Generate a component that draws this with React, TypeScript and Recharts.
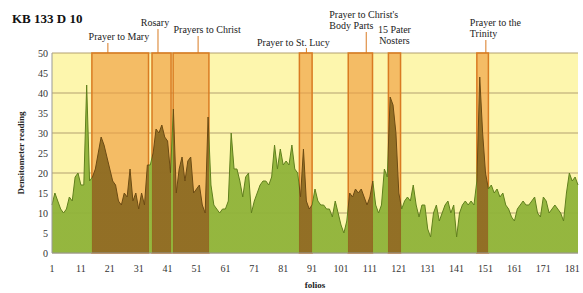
import React from "react";
import {
  AreaChart,
  Area,
  XAxis,
  YAxis,
  CartesianGrid,
  ReferenceArea,
} from "recharts";

// densitometer readings, folio 1..183
const readings = [
  12, 15, 13, 11, 10, 11, 14, 13, 19, 20, 17, 17, 42, 18, 19, 21, 25, 29, 27, 24,
  21, 18, 17, 13, 12, 15, 14, 21, 13, 15, 11, 15, 12, 22, 22, 25, 31, 30, 32, 29,
  28, 20, 36, 15, 21, 24, 18, 23, 24, 15, 16, 17, 12, 10, 34, 17, 12, 11, 10, 11,
  11, 13, 30, 21, 21, 18, 14, 19, 20, 10, 13, 15, 17, 18, 18, 17, 19, 27, 21, 26,
  22, 23, 22, 27, 21, 20, 14, 26, 13, 11, 12, 16, 13, 12, 12, 11, 11, 9, 13, 10,
  7, 5, 8, 15, 14, 16, 15, 16, 14, 12, 14, 18, 12, 10, 12, 21, 19, 39, 37, 30,
  15, 11, 13, 14, 13, 17, 12, 9, 12, 12, 6, 4, 10, 12, 8, 10, 12, 13, 10, 12,
  4, 10, 12, 13, 12, 13, 12, 18, 44, 30, 20, 16, 17, 15, 16, 14, 15, 12, 11, 9,
  8, 11, 12, 13, 12, 12, 13, 14, 10, 9, 14, 13, 10, 11, 12, 11, 10, 8, 15, 20,
  18, 19, 17,
];

const xTicks = [1, 11, 21, 31, 41, 51, 61, 71, 81, 91, 101, 111, 121, 131, 141, 151, 161, 171, 181];
const yTicks = [0, 5, 10, 15, 20, 25, 30, 35, 40, 45, 50];

// marked sections (folio from / to)
const bandNames = [
  "Prayer to Mary",
  "Rosary",
  "Prayers to Christ",
  "Prayer to St. Lucy",
  "Prayer to Christ's\nBody Parts",
  "15 Pater\nNosters",
  "Prayer to the\nTrinity",
];
const bandFrom = [14.8, 35.6, 42.9, 86.6, 103.5, 117.4, 148];
const bandTo = [34.4, 42.2, 55.3, 91.0, 111.9, 121.6, 152];

// label placement, relative to the band's left edge and the plot top
const labelLayout = [
  { tx: 27, ty: [-13], anchor: "middle", lx: 16, ly: -10 },
  { tx: 3, ty: [-27], anchor: "middle", lx: 6, ly: -24 },
  { tx: 34, ty: [-20], anchor: "middle", lx: 25, ly: -17 },
  { tx: -6, ty: [-7], anchor: "middle", lx: 7, ly: -5 },
  { tx: -19, ty: [-35, -24], anchor: "start", lx: 18, ly: -21 },
  { tx: 6, ty: [-20, -9], anchor: "middle", lx: null, ly: 0 },
  { tx: -7, ty: [-27, -16], anchor: "start", lx: 9, ly: -13 },
];

const data = readings.map((v, i) => ({ folio: i + 1, reading: v }));

const X_MIN = 1;
const X_MAX = readings.length;

const GREEN = "#8fb339";
const GREEN_LINE = "#5f7f1c";
const BROWN = "#8d6b22";
const BROWN_LINE = "#6b4a12";

function gradientStops(outside: string, inside: string) {
  const stops: React.ReactNode[] = [];
  const span = X_MAX - X_MIN;
  stops.push(<stop key="s" offset={0} stopColor={outside} />);
  bandFrom.forEach((a, i) => {
    const o1 = (a - X_MIN) / span;
    const o2 = (bandTo[i] - X_MIN) / span;
    stops.push(<stop key={`a${i}`} offset={o1} stopColor={outside} />);
    stops.push(<stop key={`b${i}`} offset={o1} stopColor={inside} />);
    stops.push(<stop key={`c${i}`} offset={o2} stopColor={inside} />);
    stops.push(<stop key={`d${i}`} offset={o2} stopColor={outside} />);
  });
  stops.push(<stop key="e" offset={1} stopColor={outside} />);
  return stops;
}

function BandLabel(props: any) {
  const { viewBox, idx } = props;
  if (!viewBox) return null;
  const lay = labelLayout[idx];
  const lines = bandNames[idx].split("\n");
  const x0 = viewBox.x;
  const top = viewBox.y;
  return (
    <g>
      {lay.lx != null && (
        <line
          x1={x0 + lay.lx}
          x2={x0 + lay.lx}
          y1={top + lay.ly}
          y2={top}
          stroke="#d97b22"
          strokeWidth={1}
        />
      )}
      {lines.map((t, j) => (
        <text
          key={j}
          x={x0 + lay.tx}
          y={top + lay.ty[j]}
          textAnchor={lay.anchor}
          fontFamily="'Liberation Serif', serif"
          fontSize={10}
          fill="#222"
        >
          {t}
        </text>
      ))}
    </g>
  );
}

export default function App() {
  return (
    <div style={{ position: "absolute", left: 0, top: 0, width: 583, height: 293, background: "#fff" }}>
      <AreaChart
        width={583}
        height={293}
        data={data}
        margin={{ top: 53, right: 5, left: 0, bottom: 0 }}
      >
        <defs>
          <linearGradient id="fillGrad" x1="0" y1="0" x2="1" y2="0">
            {gradientStops(GREEN, BROWN)}
          </linearGradient>
          <linearGradient id="lineGrad" x1="0" y1="0" x2="1" y2="0">
            {gradientStops(GREEN_LINE, BROWN_LINE)}
          </linearGradient>
        </defs>
        <CartesianGrid
          vertical={false}
          fill="#fdf6ad"
          fillOpacity={1}
          stroke="#b3a070"
          strokeWidth={1}
        />
        <XAxis
          dataKey="folio"
          type="number"
          domain={[X_MIN, X_MAX]}
          ticks={xTicks}
          tickSize={0}
          tickMargin={12}
          height={40}
          stroke="#999"
          tick={{ fill: "#333", fontSize: 10, fontFamily: "'Liberation Serif', serif" }}
          label={{
            value: "folios",
            position: "insideBottom",
            offset: 5,
            fill: "#222",
            fontSize: 9,
            fontWeight: "bold",
            fontFamily: "'Liberation Serif', serif",
          }}
        />
        <YAxis
          domain={[0, 50]}
          ticks={yTicks}
          width={52}
          tickSize={0}
          tickMargin={4}
          stroke="#999"
          tick={{ fill: "#333", fontSize: 10, fontFamily: "'Liberation Serif', serif" }}
        />
        {bandFrom.map((a, i) => (
          <ReferenceArea
            key={i}
            x1={a}
            x2={bandTo[i]}
            y1={0}
            y2={50}
            fill="#ef9d3f"
            fillOpacity={0.65}
            stroke="#d97b22"
            strokeWidth={1.5}
            label={<BandLabel idx={i} />}
          />
        ))}
        <Area
          type="linear"
          dataKey="reading"
          fill="url(#fillGrad)"
          fillOpacity={0.95}
          stroke="url(#lineGrad)"
          strokeWidth={1}
          isAnimationActive={false}
        />
      </AreaChart>
      <svg
        width={583}
        height={293}
        style={{ position: "absolute", left: 0, top: 0, pointerEvents: "none" }}
      >
        <text
          x={12}
          y={23}
          fontFamily="'Liberation Serif', serif"
          fontWeight="bold"
          fontSize={13}
          fill="#111"
        >
          KB 133 D 10
        </text>
        <text
          transform="translate(24,153) rotate(-90)"
          textAnchor="middle"
          fontFamily="'Liberation Serif', serif"
          fontWeight="bold"
          fontSize={9}
          fill="#222"
        >
          Densitometer reading
        </text>
      </svg>
    </div>
  );
}
